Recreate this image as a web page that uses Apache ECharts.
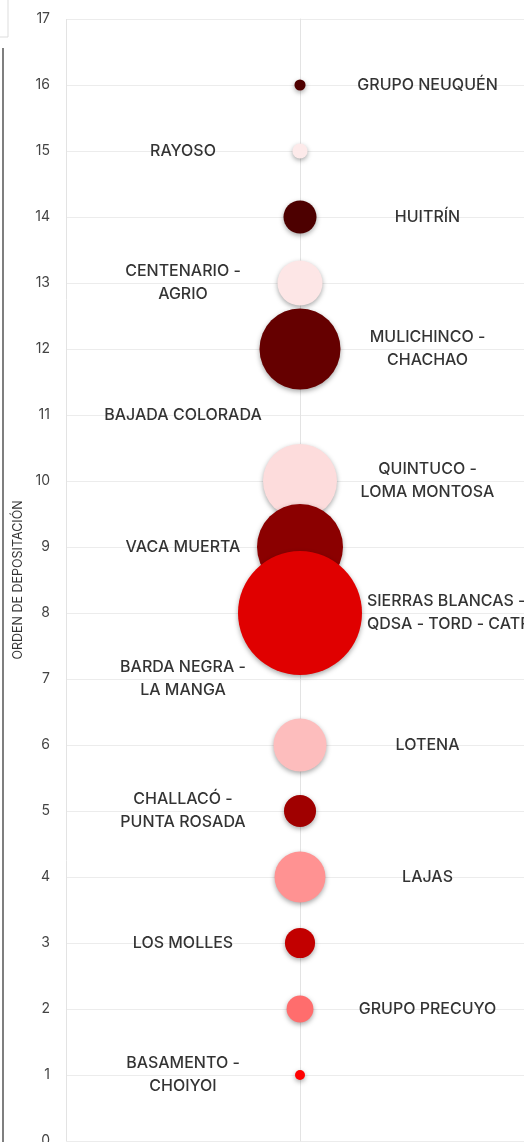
<!DOCTYPE html>
<html><head><meta charset="utf-8">
<script src="https://cdn.jsdelivr.net/npm/echarts@6/dist/echarts.min.js"></script>
<style>html,body{margin:0;padding:0;background:#fff}#c{width:524px;height:1142px}</style>
</head><body><div id="c"></div>
<script>
// Formations, top (youngest) to bottom (oldest)
const formations = ['GRUPO NEUQUÉN','RAYOSO','HUITRÍN','CENTENARIO -\nAGRIO','MULICHINCO -\nCHACHAO','BAJADA COLORADA','QUINTUCO -\nLOMA MONTOSA','VACA MUERTA','SIERRAS BLANCAS -\nQDSA - TORD - CATRIEL','BARDA NEGRA -\nLA MANGA','LOTENA','CHALLACÓ -\nPUNTA ROSADA','LAJAS','LOS MOLLES','GRUPO PRECUYO','BASAMENTO -\nCHOIYOI'];
const order = [16,15,14,13,12,11,10,9,8,7,6,5,4,3,2,1];
const magnitude = [0.8,1.5,7.1,13.2,42.7,0,35.6,48.1,100,0,18.3,6.7,16.9,5.9,4.7,0.65];
const colors = ['#4f0000','#fdeaea','#4d0000','#fde6e6','#650000','#ffffff','#fddcdc','#8b0000','#e00000','#ffffff','#fdbdbd','#a00000','#ff9292','#c20000','#ff6d6d','#ff0000'];
const yTicks = [0,17,1];

const maxMag = Math.max(...magnitude);
const chart = echarts.init(document.getElementById('c'));
const bubbleData = order.map((o,i)=>({value:[0,o,magnitude[i]],itemStyle:{color:colors[i]}}));
const labelData = order.map((o,i)=>{
  const right = (o % 2 === 0);
  const long = formations[i].indexOf('CATRIEL')>=0;
  return {value:[long?0.286:(right?0.545:-0.5),o],label:{align:long?'left':'center'},name:formations[i]};
});
chart.setOption({
  animation:false,
  grid:{left:66,width:468,top:19,height:1122,containLabel:false,outerBoundsMode:'none'},
  xAxis:{type:'value',min:-1,max:1,interval:1,axisLabel:{show:false},axisTick:{show:false},axisLine:{show:false},
    splitLine:{show:true,lineStyle:{color:['#e3e3e3','#cdcdcd','#e3e3e3'],width:1}}},
  yAxis:{type:'value',min:yTicks[0],max:yTicks[1],interval:yTicks[2],
    name:'ORDEN DE DEPOSITACIÓN',nameLocation:'middle',nameGap:34,
    nameTextStyle:{fontFamily:'Inter',fontSize:12.5,color:'#333'},
    axisLine:{show:true,lineStyle:{color:'#e3e3e3'}},axisTick:{show:false},
    axisLabel:{fontFamily:'Inter',fontSize:14,color:'#444',margin:16},
    splitLine:{show:true,lineStyle:{color:'#ececec'}}},
  series:[
    {type:'scatter',data:bubbleData,
      symbolSize:v=>v[2]>0?124*Math.sqrt(v[2]/maxMag):0,
      itemStyle:{shadowBlur:5,shadowColor:'rgba(0,0,0,0.35)',shadowOffsetY:2,opacity:1},
      z:3},
    {type:'scatter',data:labelData,symbolSize:0,z:4,silent:true,
      label:{show:true,position:'inside',formatter:p=>p.name,fontFamily:'Inter',fontSize:16,fontWeight:500,
        color:'#000',lineHeight:23,verticalAlign:'middle'}}
  ],
  graphic:[
    {type:'line',shape:{x1:3,y1:48,x2:3,y2:1142},style:{stroke:'#555',lineWidth:1.5},silent:true},
    {type:'rect',shape:{x:-1,y:-1,width:9,height:38},style:{fill:'#fff',stroke:'#ddd',lineWidth:1},silent:true}
  ]
});
</script></body></html>
